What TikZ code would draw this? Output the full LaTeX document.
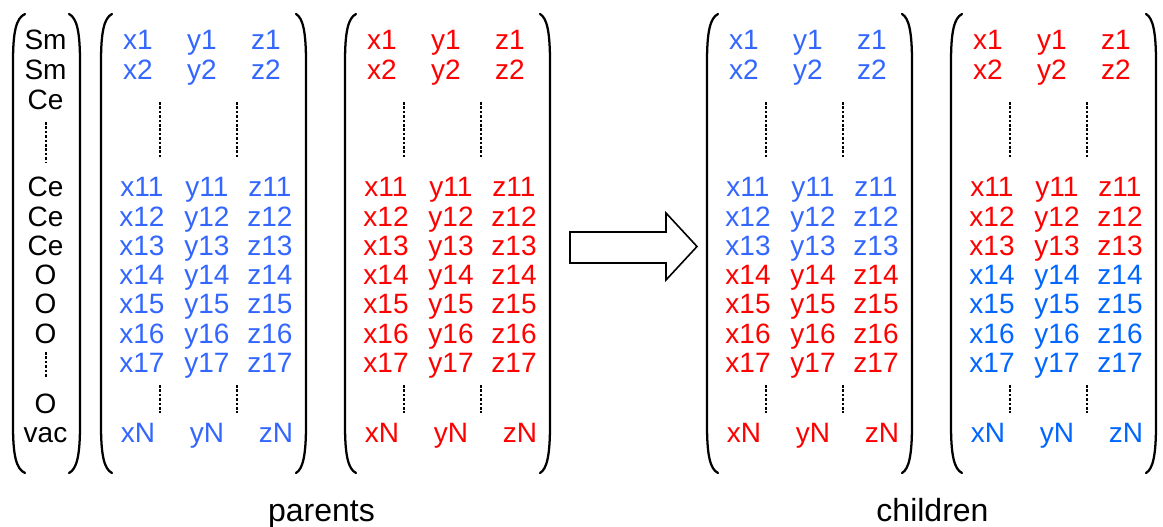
\documentclass[tikz,border=0pt]{standalone}
\usepackage{fontspec}
\setmainfont{Liberation Sans}
\definecolor{pblue}{RGB}{51,102,255}
\definecolor{cblue}{RGB}{0,102,255}
\definecolor{cred}{RGB}{255,0,0}
\tikzset{
  cell/.style={anchor=base, inner sep=0pt, font=\fontsize{21}{24}\selectfont},
  lbl/.style={anchor=base, inner sep=0pt, font=\fontsize{24}{28}\selectfont},
  brk/.style={line width=1.7pt, line cap=round},
  vdots/.style={line width=2.2pt, dash pattern=on 2pt off 1.3pt},
  bigarrow/.style={line width=1.2pt, line join=miter, fill=white}
}
% left paren: #1 = x of vertical stroke, #2 = x of the end points
\newcommand\mylpar[2]{%
  \draw[brk] (#2,14) .. controls ({#1+3},18) and (#1,32) .. (#1,62) -- (#1,425)
    .. controls (#1,455) and ({#1+3},469) .. (#2,473);}
\newcommand\myrpar[2]{%
  \draw[brk] (#2,14) .. controls ({#1-3},18) and (#1,32) .. (#1,62) -- (#1,425)
    .. controls (#1,455) and ({#1-3},469) .. (#2,473);}
% matrix: #1 name, #2 x offset, #3 colour of rows 1,2,11-13, #4 colour of rows 14-17,N
\newcommand\mymatrix[4]{%
  \mylpar{#2+101}{#2+112}
  \myrpar{#2+306}{#2+296}
  \foreach \r/\yb in {1/50,2/80}{
    \node[cell,text=#3] (#1x\r) at ({#2+138},\yb) {x\r};
    \node[cell,text=#3] (#1y\r) at ({#2+202},\yb) {y\r};
    \node[cell,text=#3] (#1z\r) at ({#2+266},\yb) {z\r};
  }
  \foreach \r [count=\i from 0] in {11,...,17}{
    \ifnum\r<14 \def\cc{#3}\else\def\cc{#4}\fi
    \node[cell,text=\cc] (#1x\r) at ({#2+142},{197+29.2*\i}) {x\r};
    \node[cell,text=\cc] (#1y\r) at ({#2+207},{197+29.2*\i}) {y\r};
    \node[cell,text=\cc] (#1z\r) at ({#2+270},{197+29.2*\i}) {z\r};
  }
  \node[cell,text=#4] (#1xN) at ({#2+138},442) {xN};
  \node[cell,text=#4] (#1yN) at ({#2+207},442) {yN};
  \node[cell,text=#4] (#1zN) at ({#2+276},442) {zN};
  \draw[vdots] ({#2+160},102) -- ({#2+160},158);
  \draw[vdots] ({#2+237},102) -- ({#2+237},158);
  \draw[vdots] ({#2+160},385) -- ({#2+160},413);
  \draw[vdots] ({#2+237},385) -- ({#2+237},413);
}
\begin{document}
\begin{tikzpicture}[x=0.75pt,y=-0.75pt]
\useasboundingbox (0,0) rectangle (1163,527);
% atom type column
\mylpar{13}{25}
\myrpar{80}{69}
\foreach \t/\yb [count=\k] in {Sm/50,Sm/80,Ce/110,Ce/197,Ce/226.2,Ce/255.4,O/284.6,O/313.8,O/343,O/413,vac/442}{
  \node[cell] (a\k) at (45.5,\yb) {\t};
}
\draw[vdots] (46,122) -- (46,163);
\draw[vdots] (46,352) -- (46,378);
% matrices
\mymatrix{pa}{0}{pblue}{pblue}
\mymatrix{pb}{244}{cred}{cred}
\mymatrix{ca}{606}{pblue}{cred}
\mymatrix{cb}{850}{cred}{cblue}
% arrow
\draw[bigarrow] (570,232) -- (666,232) -- (666,213) -- (697,246.5) -- (666,280) -- (666,263) -- (570,263) -- cycle;
% labels
\node[lbl] (parents) at (321.5,521) {parents};
\node[lbl] (children) at (932.5,521) {children};
\end{tikzpicture}
\end{document}
